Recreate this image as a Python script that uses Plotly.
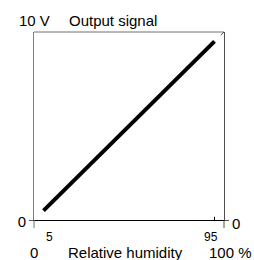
import plotly.graph_objects as go

# data
humidity = [5, 95]          # % relative humidity
signal = [0.5, 9.5]         # output signal, V
x_tick_vals = [5, 95]
x_tick_text = ["5", "95"]
x_end_labels = ["0", "100 %"]
y_label_top = "10 V"
y_label_zero = "0"

FONT = "Arial, Liberation Sans, sans-serif"

fig = go.Figure()
fig.add_trace(go.Scatter(x=humidity, y=signal, mode="lines",
                         line=dict(color="black", width=4), showlegend=False,
                         hoverinfo="skip"))
# invisible trace on the right axis so it renders
fig.add_trace(go.Scatter(x=[0], y=[0], yaxis="y2", mode="markers",
                         marker=dict(opacity=0), showlegend=False, hoverinfo="skip"))

fig.update_layout(
    width=254, height=260,
    margin=dict(l=34, r=30, t=32, b=40),
    paper_bgcolor="white", plot_bgcolor="white",
    font=dict(family=FONT, size=15, color="black"),
    xaxis=dict(range=[0, 100], showgrid=False, zeroline=False,
               showline=True, linecolor="black", linewidth=1,
               showticklabels=False, ticks="", fixedrange=True),
    yaxis=dict(range=[0, 10], showgrid=False, zeroline=False,
               showline=True, linecolor="#808080", linewidth=1,
               tickvals=[0], ticktext=[y_label_zero], ticks="outside",
               ticklen=4, tickcolor="#555", tickfont=dict(size=15),
               ticklabelshift=2, fixedrange=True),
    yaxis2=dict(range=[0, 10], overlaying="y", side="right", showgrid=False,
                zeroline=False, showline=True, linecolor="#505050", linewidth=1,
                tickvals=[0], ticktext=[y_label_zero], ticks="outside",
                ticklen=4, tickcolor="#555", tickfont=dict(size=15),
                ticklabelshift=4, fixedrange=True),
)

shapes = [
    # top border
    dict(type="line", xref="paper", yref="paper", x0=0, x1=1, y0=1, y1=1,
         line=dict(color="#707070", width=1)),
    # left and right axis extensions below the x axis
    dict(type="line", xref="paper", yref="paper", x0=0, x1=0, y0=0, y1=-0.043,
         line=dict(color="#707070", width=1)),
    dict(type="line", xref="paper", yref="paper", x0=1, x1=1, y0=0, y1=-0.043,
         line=dict(color="#505050", width=1)),
    # small tick at 95
    dict(type="line", xref="x", yref="paper", x0=x_tick_vals[1], x1=x_tick_vals[1],
         y0=0, y1=0.017, line=dict(color="black", width=1)),
    # small diagonal at top-right corner
    dict(type="line", xref="paper", yref="paper", x0=0.983, x1=1, y0=0.983, y1=1,
         line=dict(color="#505050", width=1)),
]
fig.update_layout(shapes=shapes)

ann = [
    dict(x=0, y=1, xref="x", yref="paper", text=y_label_top, showarrow=False,
         yshift=12, xanchor="center", yanchor="middle"),
    dict(x=0.172, y=1, xref="paper", yref="paper", text="Output signal",
         showarrow=False, yshift=12, xanchor="left", yanchor="middle"),
    dict(x=x_tick_vals[0], y=0, xref="x", yref="paper", text=x_tick_text[0],
         showarrow=False, yshift=-17, xshift=6, font=dict(size=12),
         xanchor="center", yanchor="middle"),
    dict(x=x_tick_vals[1], y=0, xref="x", yref="paper", text=x_tick_text[1],
         showarrow=False, yshift=-17, xshift=-4, font=dict(size=12),
         xanchor="center", yanchor="middle"),
    dict(x=0, y=0, xref="x", yref="paper", text=x_end_labels[0], showarrow=False,
         yshift=-32, xanchor="center", yanchor="middle", borderpad=0),
    dict(x=100, y=0, xref="x", yref="paper", text=x_end_labels[1], showarrow=False,
         yshift=-32, xshift=6, xanchor="center", yanchor="middle", borderpad=0),
    dict(x=48.4, y=0, xref="x", yref="paper", text="Relative humidity",
         showarrow=False, yshift=-32, xanchor="center", yanchor="middle", borderpad=0),
]
fig.update_layout(annotations=ann)

fig.write_html("out.html", config={"displayModeBar": False},
               post_script="document.body.style.margin='0';"
                           "document.documentElement.style.overflow='hidden';")
